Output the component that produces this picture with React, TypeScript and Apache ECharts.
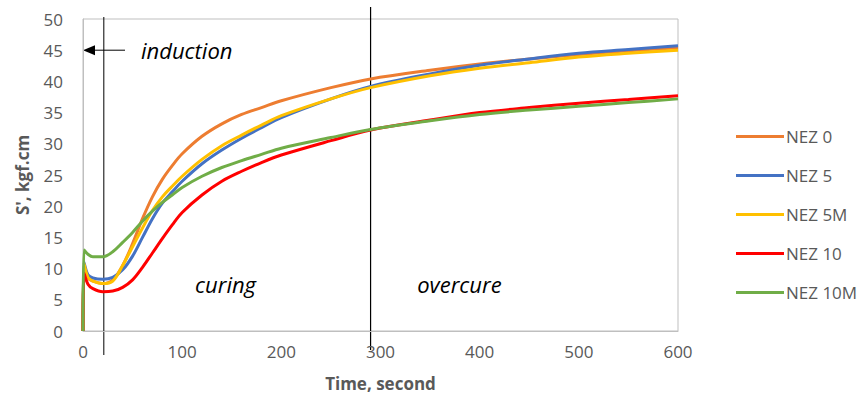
import React, { useEffect, useRef } from "react";
import * as echarts from "echarts";

const times = [0, 1, 5, 10, 20, 30, 40, 50, 60, 70, 80, 90, 100, 120, 140, 160, 180, 200, 250, 290, 350, 400, 450, 500, 550, 600];
const nez0 = [0, 10.5, 8.5, 8.0, 7.6, 8.2, 10.5, 14.0, 18.0, 21.5, 24.3, 26.5, 28.4, 31.2, 33.2, 34.7, 35.8, 36.9, 39.0, 40.4, 41.8, 42.8, 43.6, 44.3, 44.9, 45.4];
const nez5 = [0, 11.0, 9.0, 8.5, 8.3, 8.6, 9.8, 12.0, 15.0, 18.0, 20.5, 22.3, 24.0, 26.8, 29.0, 30.9, 32.6, 34.2, 37.2, 39.2, 41.2, 42.6, 43.6, 44.5, 45.1, 45.7];
const nez5m = [0, 10.8, 8.6, 8.0, 7.6, 8.0, 10.5, 13.5, 16.5, 19.3, 21.5, 23.2, 24.8, 27.5, 29.7, 31.4, 33.0, 34.5, 37.2, 39.0, 40.9, 42.1, 43.0, 43.9, 44.5, 45.0];
const nez10 = [0, 9.3, 7.5, 6.8, 6.3, 6.4, 7.0, 8.2, 10.2, 12.5, 14.8, 17.0, 19.0, 21.8, 24.0, 25.6, 27.0, 28.2, 30.5, 32.2, 33.8, 35.0, 35.8, 36.5, 37.1, 37.7];
const nez10m = [0, 13.0, 12.3, 11.9, 11.9, 12.7, 14.2, 15.8, 17.6, 19.2, 20.6, 21.8, 23.0, 24.8, 26.2, 27.3, 28.3, 29.3, 31.0, 32.3, 33.7, 34.7, 35.4, 36.0, 36.6, 37.2];

const seriesNames = ["NEZ 0", "NEZ 5", "NEZ 5M", "NEZ 10", "NEZ 10M"];
const seriesValues = [nez0, nez5, nez5m, nez10, nez10m];
const seriesColors = ["#ED7D31", "#4472C4", "#FFC000", "#FF0000", "#70AD47"];

const inductionEnd = 21;
const cureEnd = 290;
const arrowY = 45;

const FONT = "'Open Sans', 'Noto Sans', sans-serif";

export default function App() {
  const ref = useRef<HTMLDivElement>(null);
  useEffect(() => {
    if (!ref.current) return;
    const chart = echarts.init(ref.current, undefined, { renderer: "svg" });
    chart.setOption({
      animation: false,
      grid: { left: 83, right: 185, top: 19, bottom: 76, show: true, borderColor: "#BFBFBF", borderWidth: 1 },
      legend: {
        orient: "vertical",
        left: 731,
        top: 123,
        itemWidth: 48,
        itemHeight: 3,
        itemGap: 22,
        icon: "rect",
        data: seriesNames,
        textStyle: { color: "#595959", fontSize: 17, fontFamily: FONT, padding: [0, 0, 0, -3] },
      },
      xAxis: {
        type: "value",
        min: 0,
        max: 600,
        interval: 100,
        name: "Time, second",
        nameLocation: "middle",
        nameGap: 44,
        nameTextStyle: { color: "#595959", fontSize: 17, fontWeight: "bold", fontFamily: FONT },
        axisLine: { lineStyle: { color: "#BFBFBF" } },
        axisTick: { show: false },
        splitLine: { show: false },
        axisLabel: { color: "#595959", fontSize: 17, fontFamily: FONT, margin: 12 },
      },
      yAxis: {
        type: "value",
        min: 0,
        max: 50,
        interval: 5,
        name: "S', kgf.cm",
        nameLocation: "middle",
        nameGap: 52,
        nameTextStyle: { color: "#595959", fontSize: 17, fontWeight: "bold", fontFamily: FONT },
        axisLine: { show: true, lineStyle: { color: "#BFBFBF" } },
        axisTick: { show: false },
        splitLine: { show: false },
        axisLabel: { color: "#595959", fontSize: 17, fontFamily: FONT, margin: 20 },
      },
      series: seriesNames.map((name, i) => ({
        name,
        type: "line",
        data: times.map((t, j) => [t, seriesValues[i][j]]),
        smooth: 0.35,
        showSymbol: false,
        lineStyle: { width: 3, color: seriesColors[i] },
        itemStyle: { color: seriesColors[i] },
      })),
    });

    const p = (x: number, y: number) => chart.convertToPixel({ xAxisIndex: 0, yAxisIndex: 0 }, [x, y]) as number[];
    const top = p(0, 50)[1];
    const bottom = p(0, 0)[1];
    const x1 = p(inductionEnd, 0)[0];
    const x2 = p(cureEnd, 0)[0];
    const a0 = p(0, arrowY);
    const labelY = p(0, 7.5)[1];
    chart.setOption({
      graphic: [
        { type: "line", shape: { x1: x1, y1: top - 2, x2: x1, y2: bottom + 24 }, style: { stroke: "#000", lineWidth: 1 } },
        { type: "line", shape: { x1: x2, y1: top - 12, x2: x2, y2: bottom + 19 }, style: { stroke: "#000", lineWidth: 1.2 } },
        { type: "line", shape: { x1: a0[0] + 8, y1: a0[1], x2: a0[0] + 42, y2: a0[1] }, style: { stroke: "#000", lineWidth: 1 } },
        { type: "polygon", shape: { points: [[a0[0], a0[1]], [a0[0] + 12, a0[1] - 5], [a0[0] + 12, a0[1] + 5]] }, style: { fill: "#000" } },
        { type: "text", x: a0[0] + 58, y: a0[1], style: { text: "induction", fill: "#000", fontSize: 22, fontStyle: "italic", fontFamily: FONT, verticalAlign: "middle" } },
        { type: "text", x: p(113, 0)[0], y: labelY, style: { text: "curing", fill: "#000", fontSize: 22, fontStyle: "italic", fontFamily: FONT, verticalAlign: "middle" } },
        { type: "text", x: p(337, 0)[0], y: labelY, style: { text: "overcure", fill: "#000", fontSize: 22, fontStyle: "italic", fontFamily: FONT, verticalAlign: "middle" } },
      ],
    });
    return () => chart.dispose();
  }, []);
  return <div ref={ref} style={{ width: 863, height: 407, position: "absolute", left: 0, top: 0 }} />;
}
